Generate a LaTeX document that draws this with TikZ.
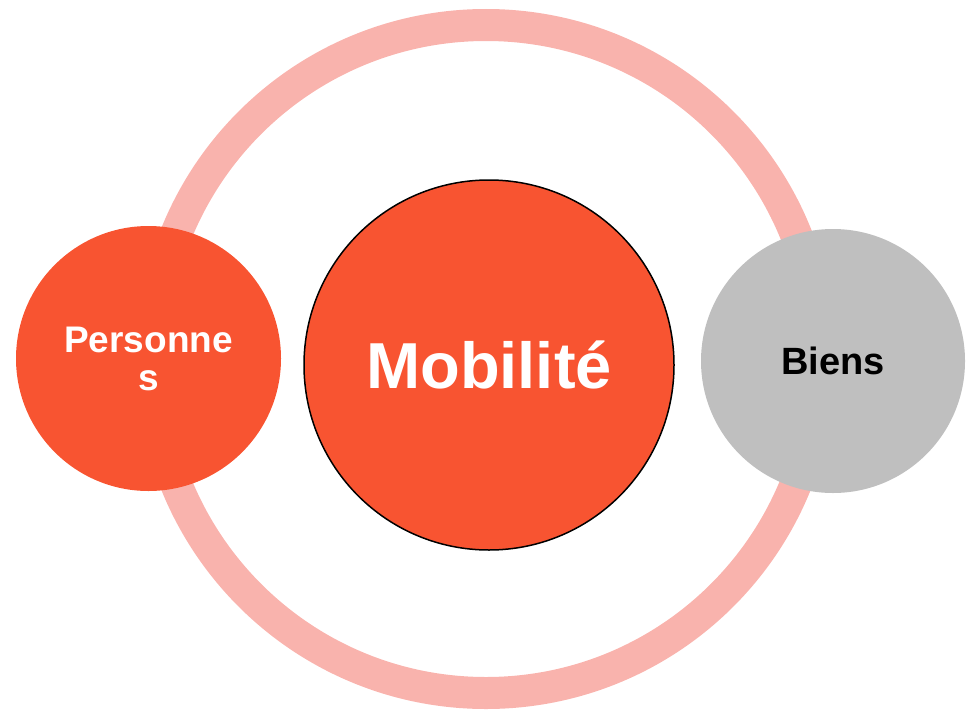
\documentclass[tikz,border=0pt]{standalone}
\usepackage{fontspec}
\setmainfont{Liberation Sans}
\definecolor{orangemob}{HTML}{F85431}
\definecolor{roseanneau}{HTML}{F9B3AD}
\definecolor{grisbiens}{HTML}{BFBFBF}
\begin{document}
\begin{tikzpicture}[x=1pt, y=-1pt, line join=round, line cap=round,
  bulle/.style={circle, inner sep=0pt, fill=orangemob, text=white}]
\useasboundingbox (0,0) rectangle (973,709);
% anneau
\draw[line width=32pt, roseanneau] (486,359) circle (334pt);
% bulles
\node[bulle, draw=black, line width=1.5pt, minimum size=370pt, text height=47pt, text depth=0pt,
  font=\bfseries\fontsize{65}{65}\selectfont] (mobilite) at (489,365) {Mobilité};
\node[bulle, minimum size=265pt, align=center,
  font=\bfseries\fontsize{37}{38}\selectfont] (personnes) at (148.5,358.5) {Personne\\s};
\node[bulle, fill=grisbiens, text=black, minimum size=264pt, text height=27pt, text depth=0pt,
  font=\bfseries\fontsize{38}{38}\selectfont] (biens) at (833,361) {Biens};
\end{tikzpicture}
\end{document}
